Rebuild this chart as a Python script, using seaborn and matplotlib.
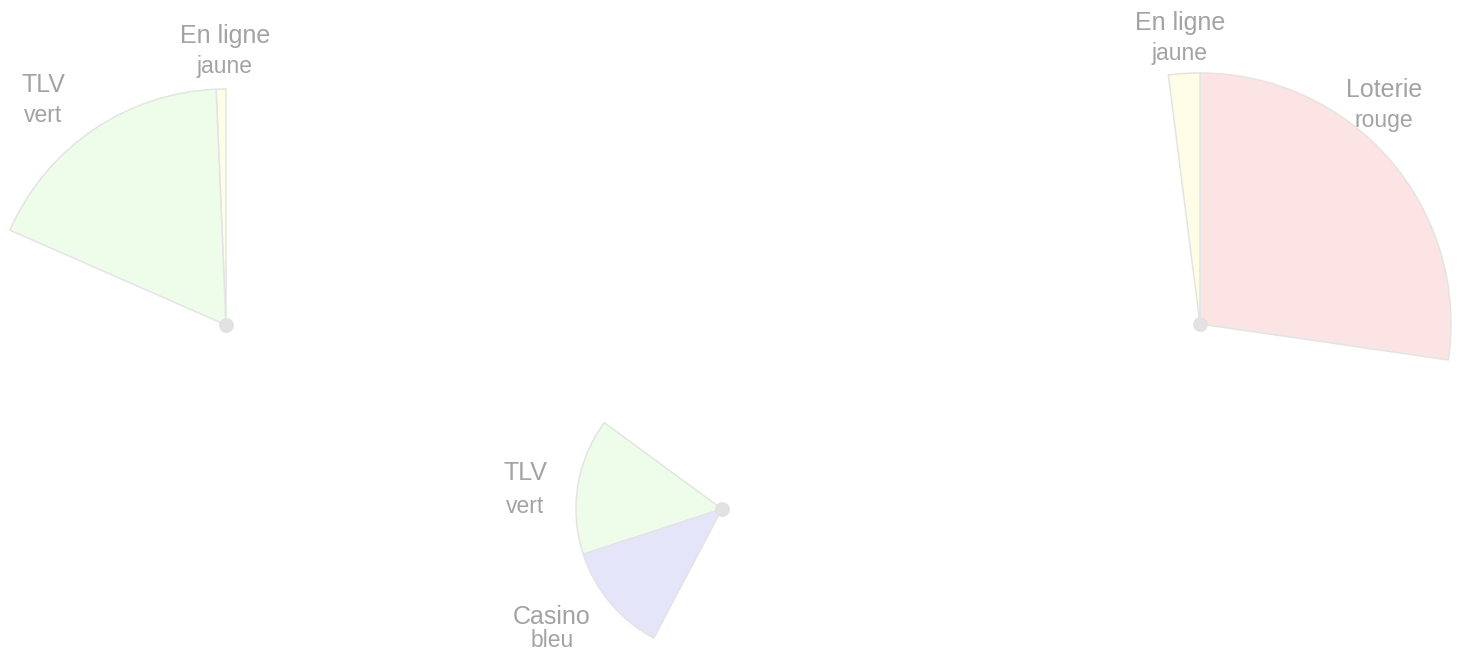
import matplotlib
matplotlib.use("Agg")
import matplotlib.pyplot as plt
import seaborn as sns

# ---------------- data ----------------
# three groups, each drawn as a partial pie (angles in degrees)
g1_categories = ["En ligne", "TLV"]
g1_colours = ["jaune", "vert"]
g1_degrees = [2.4, 63.9]
g1_start = 90.0

g2_categories = ["Loterie", "En ligne"]
g2_colours = ["rouge", "jaune"]
g2_degrees = [98.25, 7.25]
g2_start = -8.25

g3_categories = ["TLV", "Casino"]
g3_colours = ["vert", "bleu"]
g3_degrees = [54.3, 44.1]
g3_start = 143.75

# location of each group (x, y with y upward) and its radius
group_x = [226, 1200, 722]
group_y = [325, 326, 141]
group_radius = [236, 251, 146]

# ---------------- style ----------------
fill = {"jaune": "#fefde6", "vert": "#eefcea", "rouge": "#fce4e4", "bleu": "#e5e5fa"}
edge = "#e4e4e4"
text_col = "#a3a3a3"

# label anchor (text centre x, baseline y of first line, gap to second line; y upward)
label_pos = {
    (0, "En ligne"): (225, 650 - 42.5, 31),
    (0, "TLV"): (43, 650 - 92, 30),
    (1, "En ligne"): (1180, 650 - 30, 30),
    (1, "Loterie"): (1384, 650 - 97, 30),
    (2, "TLV"): (525, 650 - 480, 33),
    (2, "Casino"): (552, 650 - 624, 23),
}

sns.set_theme(style="white")
plt.rcParams["font.family"] = ["Liberation Sans", "DejaVu Sans"]

fig = plt.figure(figsize=(14.57, 6.5), dpi=100)
ax = fig.add_axes([0, 0, 1, 1])

groups = [
    (g1_categories, g1_colours, g1_degrees, g1_start),
    (g2_categories, g2_colours, g2_degrees, g2_start),
    (g3_categories, g3_colours, g3_degrees, g3_start),
]

for i, (cats, cols, degs, start) in enumerate(groups):
    vals = list(degs) + [360 - sum(degs)]
    colors = [fill[c] for c in cols] + ["none"]
    wedges, _ = ax.pie(
        vals,
        colors=colors,
        startangle=start,
        counterclock=True,
        center=(group_x[i], group_y[i]),
        radius=group_radius[i],
        wedgeprops=dict(edgecolor=edge, linewidth=1.1),
        frame=True,
    )
    wedges[-1].set_edgecolor("none")
    for cat, col in zip(cats, cols):
        lx, ly, gap = label_pos[(i, cat)]
        ax.text(lx, ly, cat, ha="center", va="baseline", fontsize=18, color=text_col)
        ax.text(lx, ly - gap, col, ha="center", va="baseline", fontsize=16.5, color=text_col)

ax.scatter(group_x, group_y, s=115, color="#e2e2e2", zorder=5, linewidths=0)

ax.set_xlim(0, 1457)
ax.set_ylim(0, 650)
ax.set_aspect("equal")
ax.axis("off")

fig.savefig("out.png", dpi=100)
